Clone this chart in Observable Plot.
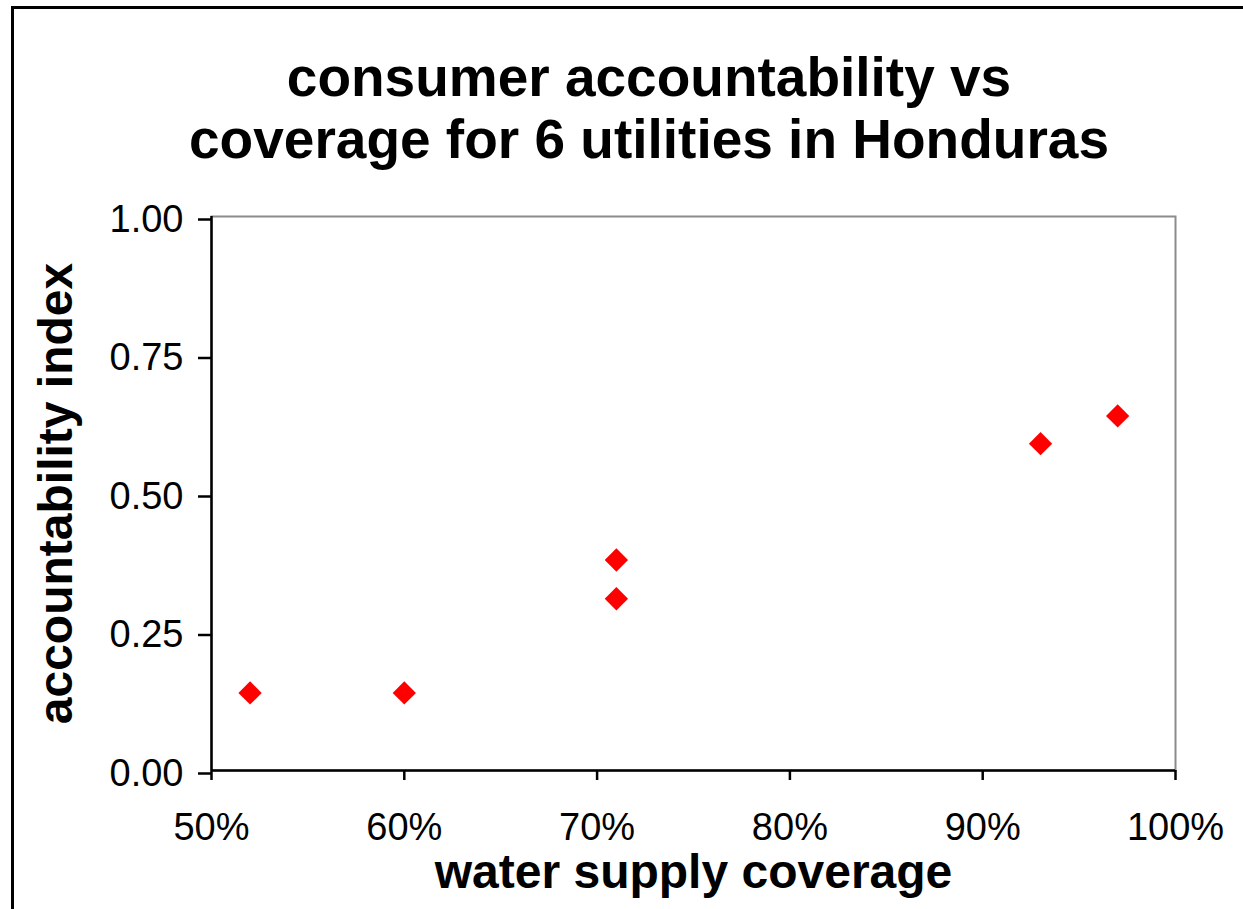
<!DOCTYPE html>
<html>
<head>
<meta charset="utf-8">
<script src="https://cdn.jsdelivr.net/npm/d3@7"></script>
<script src="https://cdn.jsdelivr.net/npm/@observablehq/plot@0.6"></script>
<style>
  html, body { margin: 0; padding: 0; background: #fff; overflow: hidden; }
  #page { position: relative; width: 1243px; height: 909px; font-family: "Liberation Sans", Arial, sans-serif; }
  #border { position: absolute; left: 11px; top: 6px; width: 1400px; height: 1000px;
            border-left: 3px solid #000; border-top: 3px solid #000; box-sizing: border-box; }
  #chart { position: absolute; left: 0; top: 0; }
  #chart svg { background: transparent; overflow: visible; }
  #title { position: absolute; left: 55px; width: 1188px; top: 46px; text-align: center;
           font-size: 55px; font-weight: bold; line-height: 62px; color: #000; }
</style>
</head>
<body>
<div id="page">
  <div id="border"></div>
  <div id="chart"></div>
  <div id="title">consumer accountability vs<br>coverage for 6 utilities in Honduras</div>
</div>
<script>
// Six utilities: water supply coverage (share) and consumer accountability index
const coverage = [0.52, 0.60, 0.71, 0.71, 0.93, 0.97];
const accountability = [0.14, 0.14, 0.38, 0.31, 0.59, 0.64];

const xTicks = [0.5, 0.6, 0.7, 0.8, 0.9, 1.0];
const yTicks = [0, 0.25, 0.5, 0.75, 1.0];
const xLabel = "water supply coverage";
const yLabel = "accountability index";

const points = coverage.map((c, i) => ({coverage: c, accountability: accountability[i]}));

const chart = Plot.plot({
  width: 1243,
  height: 909,
  marginLeft: 211,
  marginRight: 68,
  marginTop: 216,
  marginBottom: 139,
  style: {fontFamily: "'Liberation Sans', Arial, sans-serif", background: "transparent", color: "#000", overflow: "visible"},
  x: {domain: [0.5, 1.0]},
  y: {domain: [0, 1]},
  marks: [
    Plot.frame({stroke: "#8c8c8c", strokeWidth: 2}),
    Plot.axisX({ticks: xTicks, tickFormat: d3.format(".0%"), tickSize: 10, tickPadding: 33,
                fontSize: 38, strokeWidth: 2.5, label: null}),
    Plot.axisY({ticks: yTicks, tickFormat: d3.format(".2f"), tickSize: 13, tickPadding: 15,
                fontSize: 38, strokeWidth: 2.5, label: null, dy: 3}),
    Plot.ruleX([0.5], {stroke: "#000", strokeWidth: 2.5}),
    Plot.ruleY([0], {stroke: "#000", strokeWidth: 2.5}),
    Plot.dot(points, {x: "coverage", y: "accountability", symbol: "diamond2", r: 10.5,
                      fill: "#ff0000", stroke: "none"}),
    Plot.text([xLabel], {frameAnchor: "bottom", text: d => d, dy: 117, lineAnchor: "bottom",
                         textAnchor: "middle", fontSize: 48, fontWeight: "bold"}),
    Plot.text([yLabel], {frameAnchor: "left", text: d => d, dx: -140, rotate: -90,
                         lineAnchor: "bottom", textAnchor: "middle", fontSize: 48, fontWeight: "bold"})
  ]
});

document.getElementById("chart").appendChild(chart);
</script>
</body>
</html>
